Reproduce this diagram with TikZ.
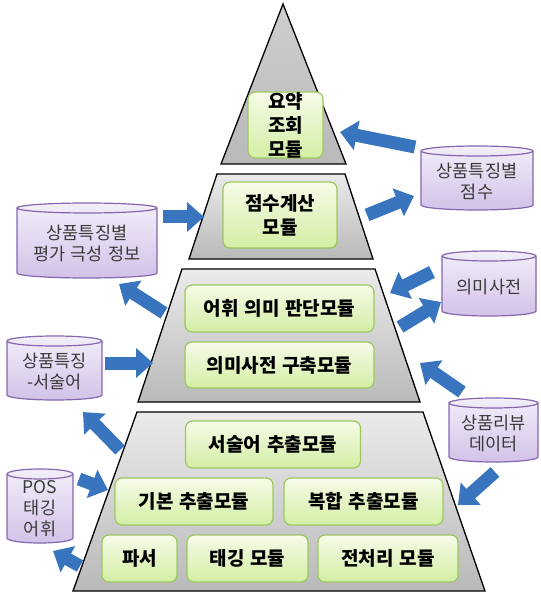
\documentclass[tikz,border=0pt]{standalone}
\usepackage{fontspec}
\setmainfont{Noto Sans CJK KR}[WordSpace=1.3]
\usetikzlibrary{arrows.meta}
\definecolor{gborder}{HTML}{9CC95E}
\definecolor{gtop}{HTML}{F6FBE8}
\definecolor{gbot}{HTML}{D3EEA4}
\definecolor{ptop}{HTML}{F3EEF9}
\definecolor{pbot}{HTML}{D2C2E8}
\definecolor{pborder}{HTML}{8467AE}
\definecolor{ablue}{HTML}{3875BE}
\definecolor{ltop}{HTML}{EBEBEB}
\definecolor{lbot}{HTML}{B9B9B9}
\definecolor{ctext}{HTML}{3A3A3A}
\colorlet{D0C}{black!19}
\tikzset{
  gbox/.style={rounded corners=7pt, draw=gborder, line width=1.2pt,
    top color=gtop, bottom color=gbot, align=center, inner sep=0pt,
    font=\fontsize{19}{24}\selectfont\bfseries},
  layerbox/.style={draw=black, line width=1.3pt, top color=ltop, bottom color=lbot},
  toplayer/.style={draw=black, line width=1.3pt, top color=D0C, bottom color=lbot},
  cylshape/.style={draw=pborder, line width=1.2pt, top color=ptop, bottom color=pbot},
  cylline/.style={draw=pborder, line width=1.2pt},
  cyltext/.style={align=center, inner sep=0pt, text=ctext,
    font=\fontsize{17.5}{21}\selectfont},
  blockarrow/.style={draw=ablue, line width=13pt,
    -{Triangle[length=17pt,width=29pt]}},
}
\newcommand\dbcyl[6]{%
  \shadedraw[cylshape] (#2,#3+5) -- (#2,#5-5) arc(180:0:{(#4-#2)/2} and 5)
    -- (#4,#3+5) arc(0:-180:{(#4-#2)/2} and 5) -- cycle;
  \draw[cylline] (#2,#3+5) arc(180:0:{(#4-#2)/2} and 5);
  \node[cyltext] (#1) at ({(#2+#4)/2},{(#3+#5)/2+3}) {#6};
}
\begin{document}
\begin{tikzpicture}[x=1pt,y=-1pt]
\useasboundingbox (0,0) rectangle (540,593);
% pyramid layers
\shadedraw[toplayer] (283,4) -- (346,164) -- (221,164) -- cycle;
\shadedraw[layerbox] (217,174) -- (345,174) -- (373,259) -- (189,259) -- cycle;
\shadedraw[layerbox] (182,269) -- (375,269) -- (420,402) -- (138,402) -- cycle;
\shadedraw[layerbox] (137,412) -- (423,412) -- (485,591) -- (73,591) -- cycle;
% modules
\node[gbox, minimum width=75pt, minimum height=66pt] (sum) at (285.5,125) {요약\\조회\\모듈};
\node[gbox, minimum width=114pt, minimum height=66pt] (score) at (280,215) {점수계산\\모듈};
\node[gbox, minimum width=189pt, minimum height=47pt] (judge) at (279.5,308.5) {어휘 의미 판단모듈};
\node[gbox, minimum width=189pt, minimum height=46pt] (build) at (279.5,365) {의미사전 구축모듈};
\node[gbox, minimum width=175pt, minimum height=47pt] (pred) at (273,444.5) {서술어 추출모듈};
\node[gbox, minimum width=158pt, minimum height=47pt] (basic) at (194,501.5) {기본 추출모듈};
\node[gbox, minimum width=159pt, minimum height=47pt] (comp) at (363.5,501.5) {복합 추출모듈};
\node[gbox, minimum width=75pt, minimum height=47pt] (parser) at (139.5,558.5) {파서};
\node[gbox, minimum width=121pt, minimum height=47pt] (tag) at (247.5,558.5) {태깅 모듈};
\node[gbox, minimum width=140pt, minimum height=47pt] (prep) at (388,558.5) {전처리 모듈};
% data stores
\dbcyl{cscore}{421}{146}{533}{210}{상품특징별\\점수}
\dbcyl{cpolar}{17}{203}{157}{278}{상품특징별\\평가 극성 정보}
\dbcyl{cpred}{7}{336}{102}{400}{상품특징\\-서술어}
\dbcyl{cpos}{7}{469}{73}{543}{POS\\태깅\\어휘}
\dbcyl{cdict}{442}{251}{536}{316}{의미사전}
\dbcyl{creview}{449}{398}{538}{462}{상품리뷰\\데이터}
% arrow end points
\coordinate (t1) at (415,147); \coordinate (h1) at (340,132);
\coordinate (t2) at (367,215); \coordinate (h2) at (414,196);
\coordinate (t3) at (163,217); \coordinate (h3) at (204,217);
\coordinate (t4) at (164,313); \coordinate (h4) at (119,284);
\coordinate (t5) at (105,363); \coordinate (h5) at (153,363);
\coordinate (t6) at (120,450); \coordinate (h6) at (83,412);
\coordinate (t7) at (79,479);  \coordinate (h7) at (108,490);
\coordinate (t8) at (80,566);  \coordinate (h8) at (53,551);
\coordinate (t9) at (432,272); \coordinate (h9) at (390,293);
\coordinate (t10) at (400,327); \coordinate (h10) at (441,302);
\coordinate (t11) at (462,392); \coordinate (h11) at (420,363);
\coordinate (t12) at (495,472); \coordinate (h12) at (458,505);
\foreach \i in {1,...,12} { \draw[blockarrow] (t\i) -- (h\i); }
\end{tikzpicture}
\end{document}
